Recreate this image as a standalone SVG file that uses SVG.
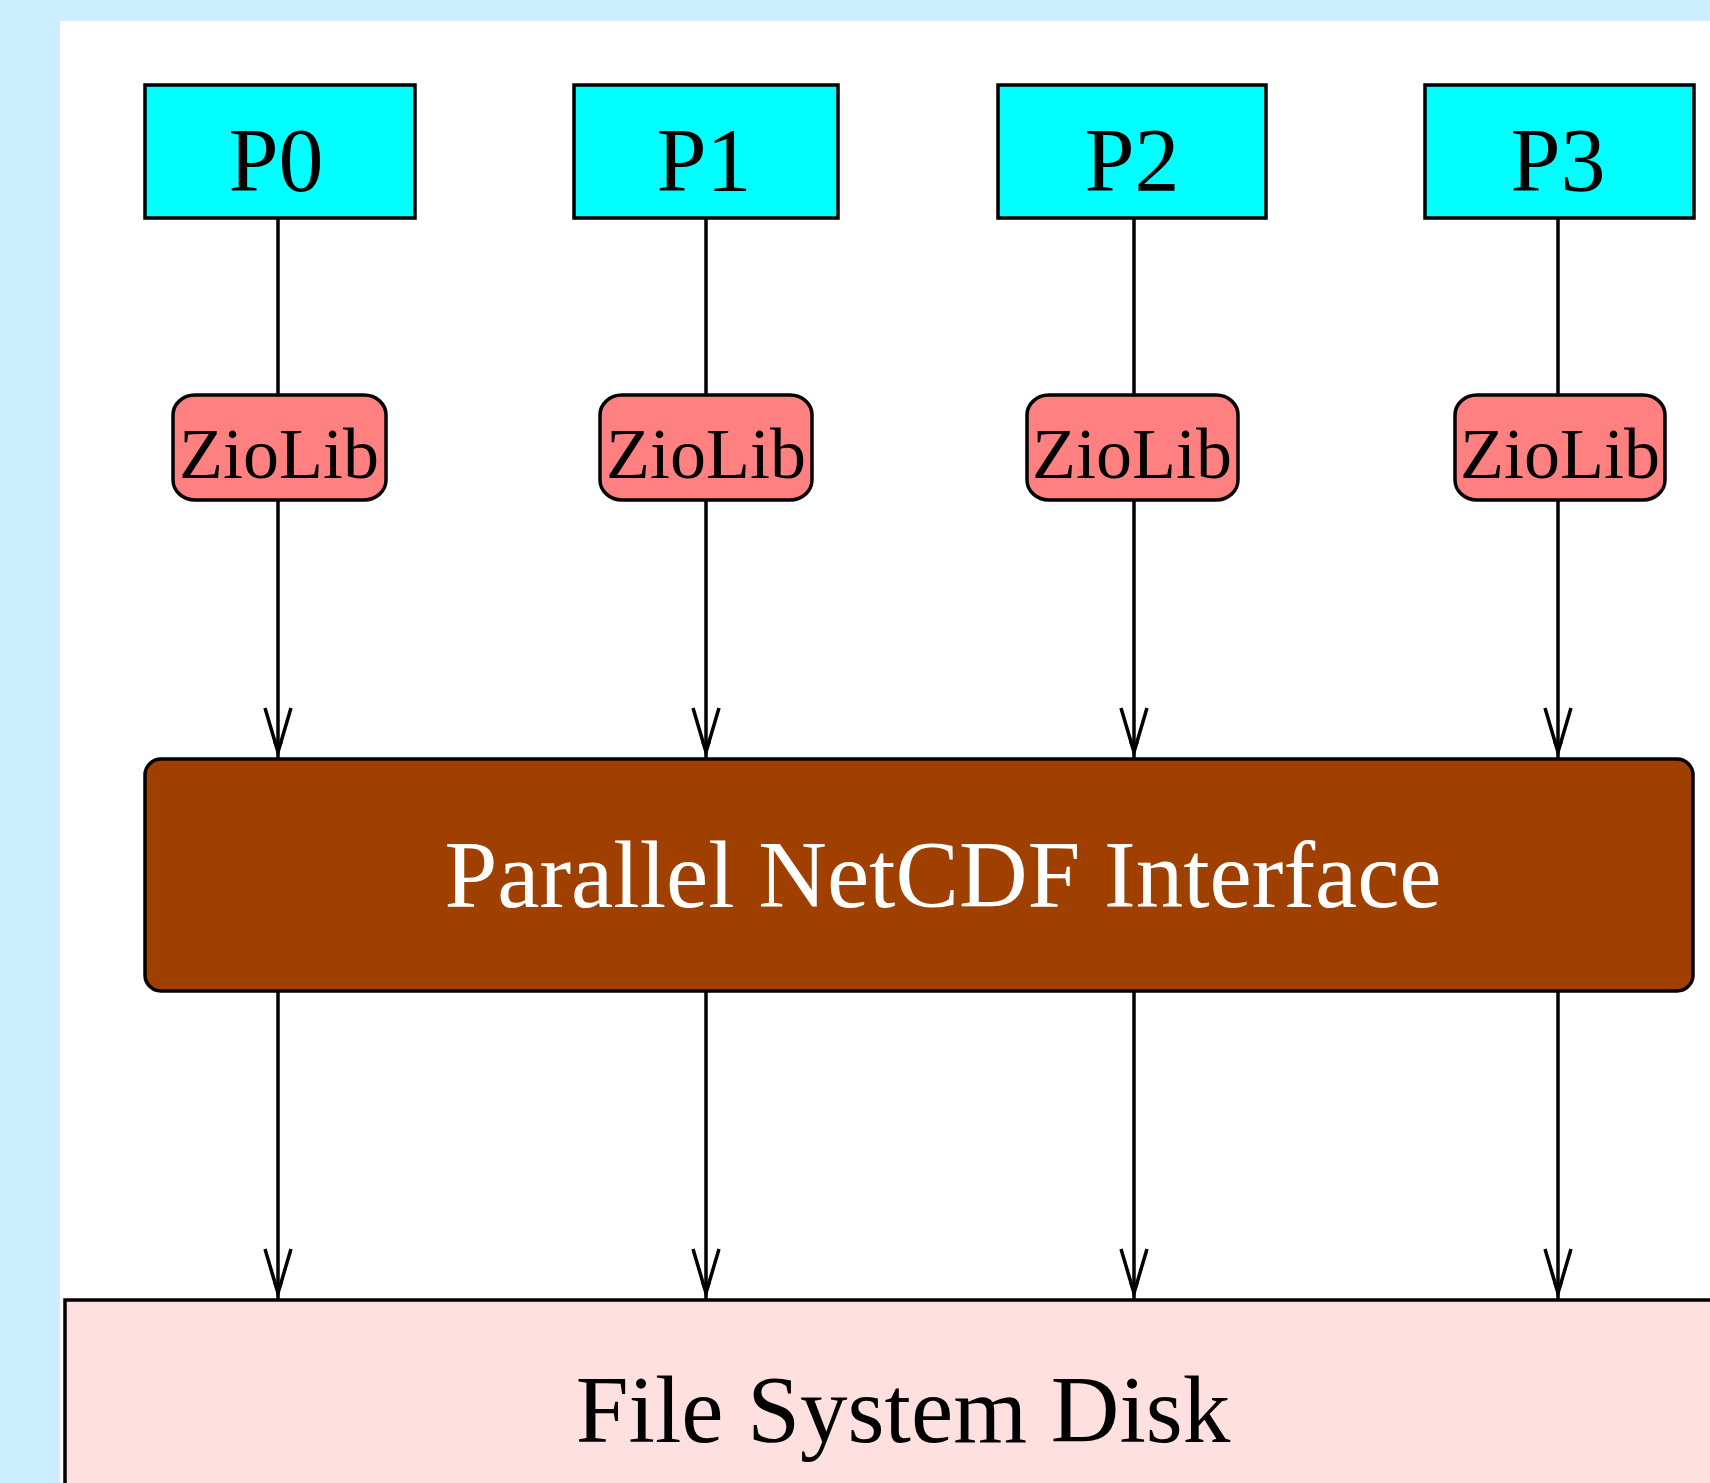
<svg xmlns="http://www.w3.org/2000/svg" width="1710" height="1483" viewBox="0 0 1710 1483">
<style>
.box{stroke:#000;stroke-width:3.5}
.p{fill:#00FFFF}
.z{fill:#FF8080}
.t{font-family:"Liberation Serif","Times New Roman",serif;fill:#000}
.e{stroke:#000;stroke-width:3.5;fill:none}
</style>
<defs>
<marker id="v" markerUnits="userSpaceOnUse" markerWidth="60" markerHeight="40" viewBox="-55 -20 60 40" refX="0" refY="0" orient="auto" overflow="visible">
<path d="M-50,-13 L-6,0 L-50,13" fill="none" stroke="#000" stroke-width="3.5"/>
<path d="M-16,-5 L-4,0 L-16,5 Z" fill="#000"/>
</marker>
</defs>
<rect x="0" y="0" width="1710" height="1483" fill="#CCEEFF"/>
<rect x="60" y="21" width="1650" height="1462" fill="#FFFFFF"/>
<g id="connectors">
<path class="e" d="M278,219 V395"/>
<path class="e" d="M706,219 V395"/>
<path class="e" d="M1134,219 V395"/>
<path class="e" d="M1558,219 V395"/>
<path class="e" d="M278,500 V758" marker-end="url(#v)"/>
<path class="e" d="M706,500 V758" marker-end="url(#v)"/>
<path class="e" d="M1134,500 V758" marker-end="url(#v)"/>
<path class="e" d="M1558,500 V758" marker-end="url(#v)"/>
<path class="e" d="M278,991 V1299" marker-end="url(#v)"/>
<path class="e" d="M706,991 V1299" marker-end="url(#v)"/>
<path class="e" d="M1134,991 V1299" marker-end="url(#v)"/>
<path class="e" d="M1558,991 V1299" marker-end="url(#v)"/>
</g>
<g id="P0"><rect class="box p" x="145" y="85" width="270" height="133"/><text class="t" x="276" y="191" font-size="90" text-anchor="middle">P0</text></g>
<g id="P1"><rect class="box p" x="574" y="85" width="264" height="133"/><text class="t" x="704" y="191" font-size="90" text-anchor="middle">P1</text></g>
<g id="P2"><rect class="box p" x="998" y="85" width="268" height="133"/><text class="t" x="1132" y="191" font-size="90" text-anchor="middle">P2</text></g>
<g id="P3"><rect class="box p" x="1425" y="85" width="269" height="133"/><text class="t" x="1558" y="191" font-size="90" text-anchor="middle">P3</text></g>
<g id="Z0"><rect class="box z" x="173" y="395" width="213" height="105" rx="22" ry="20"/><text class="t" x="279" y="478" font-size="72" text-anchor="middle">ZioLib</text></g>
<g id="Z1"><rect class="box z" x="600" y="395" width="212" height="105" rx="22" ry="20"/><text class="t" x="706" y="478" font-size="72" text-anchor="middle">ZioLib</text></g>
<g id="Z2"><rect class="box z" x="1027" y="395" width="211" height="105" rx="22" ry="20"/><text class="t" x="1132" y="478" font-size="72" text-anchor="middle">ZioLib</text></g>
<g id="Z3"><rect class="box z" x="1455" y="395" width="210" height="105" rx="22" ry="20"/><text class="t" x="1560" y="478" font-size="72" text-anchor="middle">ZioLib</text></g>
<g id="PN"><rect class="box" fill="#A04000" x="145" y="759" width="1548" height="232" rx="16" ry="16"/><text class="t" x="943" y="907" font-size="95" text-anchor="middle" style="fill:#FFFFFF">Parallel NetCDF Interface</text></g>
<g id="FSD"><rect class="box" fill="#FFE0E0" x="65" y="1300" width="1700" height="260"/><text class="t" x="903" y="1442" font-size="95" text-anchor="middle">File System Disk</text></g>
</svg>
